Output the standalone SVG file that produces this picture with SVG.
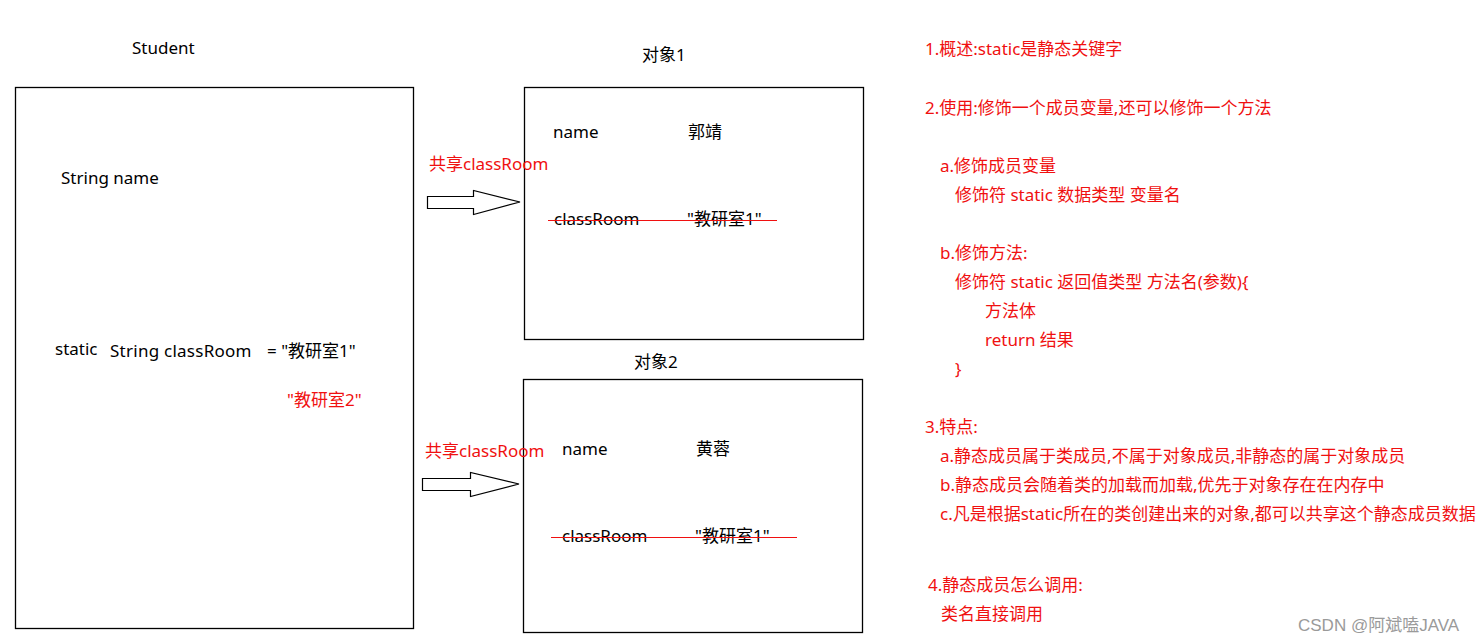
<svg xmlns="http://www.w3.org/2000/svg" width="1481" height="643" viewBox="0 0 1481 643">
<style>
text{font-family:"Noto Sans","Noto Sans CJK SC",sans-serif;font-size:17px;fill:#000}
.r{fill:#f01010}
.box{fill:#fff;stroke:#000;stroke-width:1.3}
.arrow{fill:#fff;stroke:#000;stroke-width:1.2}
.strike{stroke:#f01010;stroke-width:1.2}
.wm{font-family:"Liberation Sans","Noto Sans CJK SC",sans-serif;font-size:17px;fill:#9a9a9a}
</style>
<rect width="1481" height="643" fill="#fff"/>
<g id="student">
<text x="132" y="54">Student</text>
<rect class="box" x="15.5" y="87.5" width="398" height="541"/>
<text x="61" y="184">String name</text>
<text x="55" y="355">static</text>
<text x="110" y="357" style="letter-spacing:0.25px">String classRoom</text>
<text x="267" y="357">= "教研室1"</text>
<text class="r" x="287" y="406">"教研室2"</text>
</g>
<g id="obj1">
<text x="642" y="61">对象1</text>
<rect class="box" x="524.5" y="87.5" width="339" height="252"/>
<text x="553" y="138">name</text>
<text x="688" y="138">郭靖</text>
<text x="554" y="225">classRoom</text>
<text x="687" y="225">"教研室1"</text>
<line class="strike" x1="548" y1="220.5" x2="777" y2="220.5"/>
</g>
<g id="obj2">
<text x="634" y="368">对象2</text>
<rect class="box" x="523.5" y="379.5" width="339" height="253"/>
<text x="562" y="455">name</text>
<text x="696" y="455">黄蓉</text>
<text x="562" y="542">classRoom</text>
<text x="695" y="542">"教研室1"</text>
<line class="strike" x1="551" y1="537.5" x2="797" y2="537.5"/>
</g>
<g id="connectors">
<text class="r" x="429" y="170">共享classRoom</text>
<polygon class="arrow" points="427.5,196.5 473.5,196.5 473.5,190.5 520,202 473.5,214.5 473.5,208.5 427.5,208.5"/>
<text class="r" x="425" y="457">共享classRoom</text>
<polygon class="arrow" points="422.5,478.5 470.5,478.5 470.5,472.5 519,484 470.5,496.5 470.5,490.5 422.5,490.5"/>
</g>
<g id="notes">
<text class="r" x="925" y="55">1.概述:static是静态关键字</text>
<text class="r" x="925" y="114">2.使用:修饰一个成员变量,还可以修饰一个方法</text>
<text class="r" x="940" y="172">a.修饰成员变量</text>
<text class="r" x="955" y="201">修饰符 static 数据类型 变量名</text>
<text class="r" x="940" y="259">b.修饰方法:</text>
<text class="r" x="955" y="288">修饰符 static 返回值类型 方法名(参数){</text>
<text class="r" x="985" y="317">方法体</text>
<text class="r" x="985" y="346">return 结果</text>
<text class="r" x="955" y="375">}</text>
<text class="r" x="925" y="433">3.特点:</text>
<text class="r" x="940" y="462">a.静态成员属于类成员,不属于对象成员,非静态的属于对象成员</text>
<text class="r" x="940" y="491">b.静态成员会随着类的加载而加载,优先于对象存在在内存中</text>
<text class="r" x="940" y="520">c.凡是根据static所在的类创建出来的对象,都可以共享这个静态成员数据</text>
<text class="r" x="928" y="591">4.静态成员怎么调用:</text>
<text class="r" x="941" y="620">类名直接调用</text>
</g>
<text class="wm" x="1298" y="631">CSDN @阿斌嗑JAVA</text>
</svg>
